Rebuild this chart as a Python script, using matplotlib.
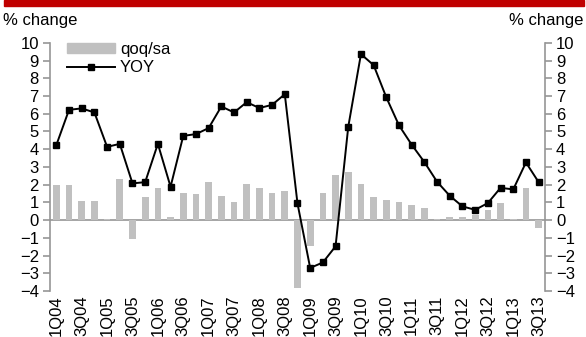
import numpy as np
import matplotlib.pyplot as plt
from matplotlib.patches import Patch, Rectangle
from matplotlib.lines import Line2D

plt.rcParams['font.family'] = ['Liberation Sans', 'DejaVu Sans']

# Quarters 1Q04 .. 3Q13
quarters = [f"{q}Q{y:02d}" for y in range(4, 14) for q in range(1, 5)][:39]

# qoq/sa (bars)
qoq_sa = [1.97, 1.97, 1.09, 1.09, 0.05, 2.33, -1.05, 1.28,
          1.80, 0.17, 1.54, 1.45, 2.14, 1.37, 1.01, 2.05,
          1.80, 1.54, 1.62, -3.83, -1.48, 1.54, 2.56, 2.74,
          2.05, 1.30, 1.11, 1.01, 0.85, 0.68, 0.05, 0.17,
          0.17, 0.26, 0.58, 0.94, 0.05, 1.80, -0.45]

# YOY (line)
yoy = [4.23, 6.22, 6.30, 6.07, 4.13, 4.30, 2.07, 2.14,
       4.30, 1.88, 4.75, 4.85, 5.19, 6.41, 6.07, 6.65,
       6.32, 6.50, 7.10, 0.94, -2.70, -2.39, -1.48, 5.26,
       9.36, 8.74, 6.92, 5.34, 4.25, 3.27, 2.16, 1.37,
       0.77, 0.58, 0.96, 1.82, 1.73, 3.25, 2.14]

x = np.arange(len(quarters))
fs = 12

fig = plt.figure(figsize=(5.86, 3.37), dpi=100)
ax = fig.add_axes([0.0853, 0.1365, 0.8447, 0.7365])

# red header strip
fig.patches.append(Rectangle((0.006, 0.982), 0.99, 0.018, transform=fig.transFigure,
                             color='#C00000', zorder=0))

ax.bar(x, qoq_sa, width=0.53, color='#C0C0C0', zorder=2)
ax.axhline(0, color='#969696', lw=1.2, zorder=1)
ax.plot(x, yoy, color='black', lw=1.4, marker='s', markersize=5, zorder=3)

ax.set_xlim(-0.5, len(quarters) - 0.5)
ax.set_ylim(-4, 10)
ax.set_yticks(range(-4, 11))
ax.set_xticks(x[::2])
ax.set_xticklabels(quarters[::2], rotation=90, fontsize=fs)

for s in ['top', 'bottom']:
    ax.spines[s].set_visible(False)
for s in ['left', 'right']:
    ax.spines[s].set_color('#969696')
    ax.spines[s].set_linewidth(1.2)

ax.tick_params(axis='y', direction='out', length=5, width=1.2, color='#969696',
               labelsize=fs, left=True, right=True, labelleft=True, labelright=True, pad=3)
ax.tick_params(axis='x', length=0, pad=3)

fig.text(0.005, 0.94, '% change', fontsize=fs, ha='left', va='center')
fig.text(0.996, 0.94, '% change', fontsize=fs, ha='right', va='center')

handles = [Patch(color='#C0C0C0'),
           Line2D([], [], color='black', lw=1.4, marker='s', markersize=5)]
ax.legend(handles, ['qoq/sa', 'YOY'], loc='upper left', bbox_to_anchor=(0.02, 1.03),
          frameon=False, fontsize=fs, handlelength=2.9, handleheight=0.5,
          handletextpad=0.3, labelspacing=0.2, borderaxespad=0)

fig.savefig('out.png', dpi=100)
